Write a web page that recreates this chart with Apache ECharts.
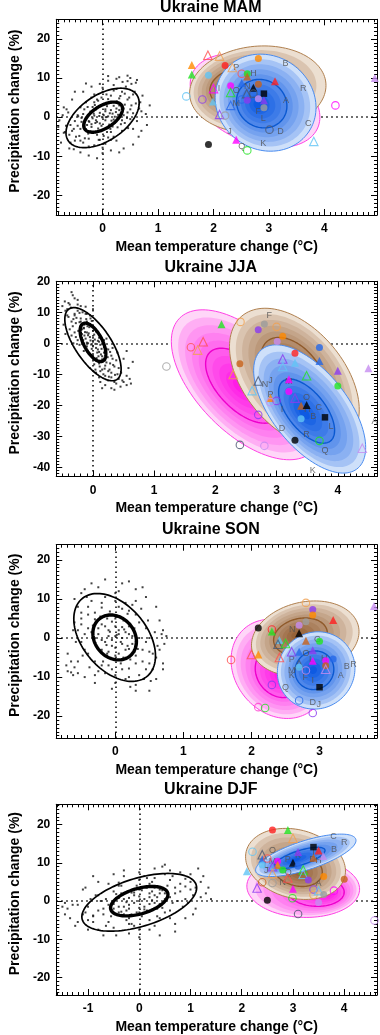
<!DOCTYPE html>
<html><head><meta charset="utf-8">
<script src="https://cdn.jsdelivr.net/npm/echarts@6/dist/echarts.min.js"></script>
<style>html,body{margin:0;padding:0;background:#fff}#c{width:380px;height:1035px}</style>
</head><body><div id="c"></div><script>
// ---------- DATA ----------
const panelTitles = ['Ukraine MAM', 'Ukraine JJA', 'Ukraine SON', 'Ukraine DJF'];
const xName = 'Mean temperature change (°C)';
const yName = 'Precipitation change (%)';
const xRanges = [[-0.836, 4.95], [-0.60, 4.64], [-0.868, 3.844], [-1.62, 4.64]];
const yRanges = [[-25, 25], [-43, 20], [-25.6, 23.9], [-24.6, 25.3]];

// natural variability samples
const mamDots = [[0.02,0.5],[-0.1,-1.2],[0.15,1.8],[-0.2,-2.5],[0.25,2.2],[0.05,-0.8],[-0.05,1.1],[0.1,0.2],[-0.15,0.4],[0.2,-0.6],[-0.25,-1.0],[0.3,3.0],[-0.3,-3.1],[0.08,2.8],[-0.08,-2.9],[0.12,-1.9],[-0.12,2.0],[0.18,0.9],[-0.18,-0.3],[0.0,-0.1],[0.22,-1.5],[-0.22,1.4],[0.28,0.6],[-0.28,-2.0],[0.04,3.3],[-0.04,-3.4],[0.14,-3.0],[-0.14,3.1],[0.33,1.0],[-0.33,-1.8],
[0.45,4.5],[0.5,2.0],[0.55,5.8],[0.4,-1.5],[0.35,6.5],[0.2,6.8],[0.0,6.5],[-0.2,5.0],[-0.4,2.5],[-0.5,-1.0],[-0.55,-3.5],[-0.5,-6.0],[-0.35,-6.5],[-0.15,-7.2],[0.05,-6.8],[0.2,-5.0],[0.35,-3.5],[0.5,-0.5],[0.6,3.5],[-0.6,-4.5],[0.42,7.8],[0.3,4.8],[-0.3,3.8],[-0.42,-4.8],[0.15,5.5],[-0.1,4.5],[-0.45,0.5],[0.46,-2.8],[0.1,-5.2],[-0.25,-5.5],[0.25,-6.0],[-0.05,-5.8],[0.55,1.0],[-0.58,-2.0],[0.38,0.5],[-0.38,-0.2],
[0.5,10.0],[0.45,9.2],[0.6,8.8],[0.3,10.2],[0.1,9.3],[-0.05,8.5],[0.55,-3.0],[0.7,1.5],[0.72,5.5],[0.8,-2.0],[0.65,-5.0],[-0.7,-4.0],[-0.75,-6.5],[-0.8,-2.5],[-0.65,2.0],[-0.55,4.5],[-0.35,6.5],[0.0,-9.2],[-0.25,-9.8],[0.15,-8.5],[-0.6,-8.0],[0.85,3.0],[-0.72,0.5],[0.38,-8.0],[0.2,8.2],
[0.05,1.5],[-0.02,-2.2],[0.12,3.8],[-0.12,-0.8],[0.22,0.1],[-0.22,-3.6],[0.3,1.8],[-0.3,-0.5],[0.18,-2.4],[-0.18,2.6],[0.08,-3.8],[-0.08,4.2],[0.26,4.0],[-0.26,-4.2],[0.35,-0.8],[-0.35,0.8],[0.4,3.2],[-0.4,-3.0],[0.02,-4.8],[-0.02,5.0],[0.15,-5.8],[-0.15,5.8],[0.45,1.2],[-0.45,-2.2],[0.1,4.6],[-0.1,-4.5],[0.32,5.4],[-0.32,-5.4],[0.48,5.0],[-0.48,-5.0],[0.2,2.9],[-0.2,-1.8],[0.27,-2.6],[-0.27,2.6],[0.06,0.0],[-0.06,0.3],[0.13,1.0],[-0.13,-1.5],[0.38,2.2],[-0.38,-1.2],[0.52,3.0],[-0.52,-3.0],[0.58,6.5],[-0.58,-6.5],[0.62,-1.0],[-0.62,1.2],[0.25,7.2],[-0.25,-7.5],[0.0,-7.8],[0.0,7.5],[0.4,6.0],[-0.4,-6.0],[0.15,-3.8],[-0.15,3.8],[0.33,-1.8],[-0.33,2.0],[0.44,-0.2],[-0.44,0.2],[0.07,5.8],[-0.07,-5.8],[0.68,3.8],[-0.68,-3.8],[0.52,8.5],[-0.52,-8.2],[0.36,9.0],[-0.2,7.8],[0.7,-3.5],[-0.7,2.5],[0.3,-9.0],[-0.4,-9.0],[0.78,0.8],[-0.78,-0.8],[0.1,10.5],[-0.1,-10.5],[0.62,9.5],[0.45,10.6],[0.25,9.8],[-0.3,8.6],[-0.5,6.5],[0.55,-7.0],[-0.66,-2.2],[0.66,2.2],[0.05,2.0],[-0.05,-1.6],[0.16,-0.9],[-0.16,0.9],[0.24,1.3],[-0.24,-1.2],[0.1,-2.8],[-0.1,2.4]];
const jjaDots = [[0.0,0.5],[-0.05,2.0],[0.05,-1.5],[-0.1,3.5],[0.1,-2.8],[-0.15,4.8],[0.15,-4.2],[0.02,2.8],[-0.02,-1.8],[0.08,0.8],[-0.08,0.0],[0.12,-0.5],[-0.12,1.5],[0.18,-3.0],[-0.18,3.0],[0.0,-3.5],[0.0,4.0],[0.06,-4.8],[-0.06,5.2],[0.2,-5.5],[-0.2,5.5],[0.1,1.8],[-0.1,-1.0],[0.14,-6.0],[-0.14,6.0],[0.04,-0.2],[-0.04,0.9],[0.16,0.0],[-0.16,1.0],[0.22,-1.8],
[-0.3,9.5],[-0.35,7.0],[-0.25,10.5],[-0.4,8.5],[-0.2,8.0],[-0.3,3.5],[-0.25,1.0],[-0.35,2.5],[-0.15,-2.5],[0.25,-9.0],[0.3,-11.0],[0.35,-7.5],[0.3,-4.0],[0.25,-2.0],[0.4,-10.0],[0.15,-8.5],[0.2,-10.5],[0.35,-12.5],[0.1,-6.5],[-0.1,7.0],[-0.05,9.0],[0.05,-9.5],[0.28,-6.5],[-0.28,6.5],[0.38,-5.5],[-0.38,4.5],[-0.22,-0.5],[0.22,1.5],[0.1,-11.0],[-0.1,9.5],[0.42,-8.0],[-0.42,11.0],[0.32,-1.5],[-0.32,0.0],
[-0.35,16.5],[-0.3,14.5],[-0.4,13.0],[-0.45,10.5],[-0.2,12.0],[0.5,-12.5],[0.55,-10.5],[0.6,-11.5],[0.45,-14.0],[0.3,-14.5],[0.5,-5.0],[-0.45,3.0],[0.65,-6.0],[0.2,-13.5],[-0.05,-8.0],[0.55,-2.5],[-0.25,14.0],[0.4,-3.0],[0.0,11.0],[0.15,-14.5],
[0.03,1.2],[-0.03,-0.4],[0.08,-2.0],[-0.08,2.6],[0.13,-3.6],[-0.13,3.6],[0.18,-1.2],[-0.18,4.5],[0.05,-5.5],[-0.05,6.2],[0.11,-7.5],[-0.11,7.8],[0.2,-7.2],[-0.2,7.0],[0.24,-4.5],[-0.24,4.0],[0.27,-8.5],[-0.27,8.2],[0.0,1.8],[0.0,-1.0],[0.15,-5.2],[-0.15,5.0],[0.07,-3.0],[-0.07,3.2],[0.1,0.5],[-0.1,0.2],[0.22,-6.2],[-0.22,6.8],[0.3,-9.5],[-0.3,9.0],[0.33,-7.0],[-0.33,5.5],[0.12,-9.0],[-0.12,9.5],[0.17,-10.0],[-0.17,10.0],[0.28,-2.8],[-0.28,2.0],[0.36,-10.2],[-0.36,11.5],[0.38,-13.0],[-0.38,12.5],[0.42,-11.5],[-0.42,9.0],[0.02,-6.8],[-0.02,7.2],[0.25,-12.0],[-0.25,12.5],[0.05,3.8],[-0.05,-3.5],[0.19,-8.2],[-0.19,1.5],[0.09,-4.2],[-0.09,5.5],[0.14,-1.8],[-0.14,2.5],[0.32,-5.0],[-0.32,7.8],[0.46,-9.5],[-0.46,13.5],[0.2,-2.5],[-0.2,2.2],[0.04,-8.5],[-0.04,8.0],[0.48,-12.0],[-0.5,12.0],[0.55,-13.5],[-0.33,15.5],[0.35,-15.0],[0.62,-13.0],[0.58,-8.0],[-0.48,6.0],[0.1,3.0],[0.18,1.0],[-0.22,9.8],[0.26,-10.8],[0.12,-12.5],[-0.12,11.8],[0.0,-5.0],[0.0,5.8]];
const sonDots = [[0.0,0.5],[-0.1,2.0],[0.1,-1.5],[-0.2,3.5],[0.2,-2.8],[0.05,-4.0],[-0.05,4.2],[0.15,1.5],[-0.15,-1.0],[0.25,0.5],[-0.25,1.0],[0.0,-2.5],[0.0,3.0],[0.1,2.8],[-0.1,-3.5],[0.28,-3.5],[-0.28,4.0],[0.2,3.0],[-0.2,-3.0],[0.05,1.0],[-0.05,-0.5],[0.12,-5.0],[-0.12,5.0],[0.3,-1.0],[-0.3,0.0],
[-0.5,5.0],[-0.4,8.0],[-0.2,9.0],[0.0,9.5],[0.2,7.0],[0.35,4.0],[0.5,0.0],[0.55,-4.0],[0.45,-8.0],[0.2,-10.0],[0.0,-9.5],[-0.2,-7.0],[-0.4,-4.0],[-0.5,-1.0],[-0.55,2.0],[0.4,-3.0],[-0.4,2.5],[0.3,-6.5],[-0.3,6.5],[0.1,7.5],[-0.1,-7.0],[0.45,2.5],[-0.45,-3.0],[0.3,6.0],[-0.3,-6.0],[0.1,-8.0],[-0.35,9.5],[0.35,-9.5],[0.15,9.0],[-0.15,-9.0],[0.5,-6.5],[-0.5,6.5],
[-0.35,14.0],[-0.15,15.0],[0.2,14.5],[0.3,12.5],[-0.5,11.5],[0.6,8.0],[0.7,2.0],[0.75,0.5],[0.65,-3.0],[0.6,-10.5],[0.5,-13.5],[0.3,-12.0],[-0.05,-13.0],[-0.3,-11.5],[-0.6,-7.5],[-0.7,-8.5],[-0.65,-6.0],[-0.55,-9.0],[-0.7,-4.0],[-0.6,10.0],[0.45,10.5],[0.7,-8.0],[-0.45,-10.0],[0.05,12.0],[0.4,13.0],
[0.05,2.0],[-0.05,-2.0],[0.15,-3.0],[-0.15,3.0],[0.25,-1.5],[-0.25,2.5],[0.1,0.0],[-0.1,0.5],[0.2,1.0],[-0.2,-0.5],[0.3,-4.5],[-0.3,4.8],[0.0,5.0],[0.0,-4.5],[0.12,4.5],[-0.12,-4.0],[0.22,-5.5],[-0.22,5.5],[0.35,0.0],[-0.35,1.5],[0.4,-6.0],[-0.4,6.0],[0.45,-1.0],[-0.45,1.0],[0.18,6.2],[-0.18,-6.0],[0.28,2.5],[-0.28,-2.0],[0.5,-3.5],[-0.5,3.5],[0.05,8.0],[-0.05,-8.0],[0.25,8.5],[-0.25,-8.5],[0.38,7.5],[-0.38,-7.5],[0.55,-8.0],[-0.55,8.0],[0.6,-5.0],[-0.6,4.0],[0.58,1.5],[-0.58,-1.0],[0.15,-10.5],[-0.15,10.5],[0.42,-10.5],[-0.42,10.5],[0.3,9.5],[-0.3,-9.5],[0.08,-6.5],[-0.08,6.8],[0.33,-2.8],[-0.33,3.2],[0.13,2.2],[-0.13,-1.8],[0.2,-7.8],[-0.2,7.8],[0.48,4.5],[-0.48,-4.5],[0.62,-2.0],[-0.62,2.0],[0.0,11.5],[0.0,-11.5],[0.68,1.0],[0.72,-1.5],[0.65,4.5],[-0.65,-8.8],[-0.72,-7.0],[-0.62,-9.5],[0.52,-11.0],[0.1,14.0],[-0.25,13.0],[0.3,-13.5],[-0.55,-6.0],[0.7,-6.5],[0.22,-12.5],[-0.45,12.5],[0.02,0.8],[0.08,-1.0],[-0.08,1.6],[0.18,-2.0]];
const djfDots = [[0.0,0.0],[0.2,1.0],[-0.2,-1.0],[0.4,2.0],[-0.4,-1.5],[0.1,-1.5],[-0.1,1.5],[0.3,-0.5],[-0.3,0.5],[0.5,0.5],[-0.5,-0.8],[0.05,2.8],[-0.05,-3.0],[0.25,2.5],[-0.25,-2.5],[0.15,-2.5],[-0.15,2.2],[0.35,1.0],[-0.35,-2.8],[0.45,2.8],[-0.45,0.8],[0.0,1.2],[0.0,-1.8],[0.3,3.5],[-0.3,-3.5],
[0.8,4.5],[0.6,5.5],[0.3,6.0],[0.0,5.5],[-0.4,4.0],[-0.8,1.5],[-1.0,-1.5],[-0.9,-4.0],[-0.6,-5.5],[-0.2,-6.0],[0.2,-5.0],[0.6,-2.5],[0.9,0.5],[1.0,3.0],[-0.7,-2.0],[0.7,2.0],[-0.5,2.5],[0.5,-3.0],[0.2,4.5],[-0.2,-4.5],[0.9,5.8],[-0.9,-5.5],[1.05,1.5],[-1.05,-3.0],[0.4,-4.5],[-0.4,4.8],[0.1,6.5],[-0.1,-6.5],[0.65,-0.5],[-0.65,0.5],
[1.2,5.0],[1.0,7.0],[0.6,8.0],[0.3,8.5],[-0.5,7.0],[-1.3,-1.0],[-1.4,-2.0],[-1.2,-5.5],[-0.7,-9.0],[-0.2,-8.5],[0.2,-7.5],[0.7,-6.0],[1.1,-2.0],[1.3,2.0],[-1.45,-3.5],[-1.0,-7.5],[0.0,-9.5],[0.4,-9.0],[-1.1,3.0],[-0.8,5.0],[0.9,-4.5],[1.15,8.5],[-0.3,8.0],[-1.5,-1.5],[0.5,9.5],
[0.1,0.5],[-0.1,-0.5],[0.3,1.5],[-0.3,-1.5],[0.5,2.0],[-0.5,-2.0],[0.2,-0.8],[-0.2,0.8],[0.4,-0.8],[-0.4,0.8],[0.6,1.0],[-0.6,-1.0],[0.7,3.5],[-0.7,-3.5],[0.15,3.5],[-0.15,-3.5],[0.35,-2.0],[-0.35,2.0],[0.55,4.0],[-0.55,-4.0],[0.05,-4.0],[-0.05,4.0],[0.8,2.5],[-0.8,-2.5],[0.25,5.0],[-0.25,-5.0],[0.9,3.8],[-0.9,-3.8],[0.45,-1.8],[-0.45,1.8],[0.75,0.0],[-0.75,0.0],[1.0,5.0],[-1.0,-5.0],[0.65,6.5],[-0.65,-6.5],[0.0,3.0],[0.0,-3.0],[1.1,3.5],[-1.1,-3.5],[0.35,-4.0],[-0.35,4.0],[0.85,-1.5],[-0.85,1.5],[0.15,6.0],[-0.15,-6.0],[1.2,1.0],[-1.2,-1.0],[0.5,7.0],[-0.5,-7.0],[0.95,-0.5],[-0.95,0.5],[0.3,-6.5],[-0.3,6.5],[0.6,-4.5],[-0.6,4.5],[1.25,6.5],[-1.25,-6.5],[0.8,7.5],[-0.8,-7.5],[0.2,2.0],[-0.2,-2.0],[0.4,3.0],[-0.4,-3.0],[0.1,-2.2],[-0.1,2.2],[1.35,3.5],[-1.35,-4.5],[0.45,9.0],[-0.45,-9.0],[0.0,7.5],[0.0,-7.5],[1.05,-3.5],[-1.05,3.5],[-1.45,-0.5],[1.4,0.5],[0.7,-8.0],[-0.9,6.5],[0.25,0.2],[-0.25,-0.3]];

// ellipse statistics: [centreX, centreY, halfRangeX, halfRangeY, correlation, peakX, peakY]
const mamNatOuter = [0.0, -0.2, 0.66, 7.6, 0.5];
const mamNatInner = [0.01, 0.0, 0.35, 3.85, 0.55];
const mamPink  = [2.75, 4.2, 1.17, 12.0, -0.35, 2.6, 3.0];
const mamBrown = [2.8, 7.1, 1.23, 11.1, 0.09, 2.3, 7.5];
const mamBlue  = [2.94, 3.7, 0.91, 12.4, -0.1, 2.8, 3.2];

const jjaNatOuter = [0.0, -0.3, 0.46, 11.8, -0.68];
const jjaNatInner = [0.0, 0.3, 0.21, 6.2, -0.6];
const jjaPink  = [2.5, -13.4, 1.22, 24.2, -0.58, 2.4, -14.0];
const jjaBrown = [3.29, -11.3, 1.06, 22.6, -0.45, 3.26, -7.5];
const jjaBlue  = [3.54, -21.2, 0.915, 20.7, -0.6, 3.44, -22.6];

const sonNatOuter = [-0.01, 0.15, 0.6, 11.25, -0.42];
const sonNatInner = [-0.01, 0.15, 0.32, 5.75, -0.18];
const sonPink  = [2.4, -7.9, 0.7, 12.7, -0.18, 2.41, -9.9];
const sonBrown = [2.79, -0.1, 0.79, 9.6, 0.18, 2.65, 0.8];
const sonBlue  = [2.95, -8.3, 0.57, 9.9, 0.05, 2.9, -8.2];

const djfNatOuter = [0.0, -0.35, 1.12, 7.55, 0.5];
const djfNatInner = [0.0, -0.05, 0.56, 3.85, 0.45];
const djfPink  = [3.2, 3.5, 1.1, 7.8, -0.05, 3.7, 1.5];
const djfBrown = [3.05, 9.7, 0.975, 9.3, -0.2, 3.12, 7.2];
const djfBlue  = [3.25, 11.95, 0.98, 5.55, 0.7, 3.02, 10.6];

// individual models: [dT, dP, marker kind, model colour]
const mamModels = [[1.90,15.8,'ot','salmon'],[2.11,15.6,'ot','peach'],[1.61,13.3,'ft','orange'],[2.21,13.2,'fc','red'],[2.34,12.7,'ot','peach'],[2.81,15.0,'fc','orange'],[1.61,10.9,'ft','green'],[1.91,10.7,'fc','sky'],[2.51,11.1,'oc','salmon'],[2.61,11.1,'fc','green'],[2.61,10.4,'ft','brown'],[3.11,9.2,'ft','red'],[2.51,8.7,'ft','blue'],[2.00,7.3,'ot','magenta'],[2.31,8.0,'fc','magenta'],[2.31,6.3,'ot','green'],[2.72,7.5,'ft','black'],[2.81,8.4,'fc','brown'],[2.91,6.0,'fs','black'],[2.60,6.0,'ot','slate'],[2.72,6.0,'oc','slate'],[1.51,5.3,'oc','sky'],[1.80,4.5,'oc','purple'],[1.99,4.0,'ft','sky'],[2.31,3.0,'ot','blue'],[2.51,4.5,'oc','blue'],[2.61,4.3,'fc','purple'],[2.81,4.7,'fc','lavender'],[2.91,4.3,'ft','purple'],[2.91,2.4,'fc','gray'],[2.11,0.7,'ot','purple'],[2.21,0.4,'oc','gray'],[4.20,3.0,'oc','magenta'],[4.91,10.0,'ft','lavender'],[3.01,-3.2,'oc','slate'],[3.81,-6.2,'ot','sky'],[1.91,-7.0,'fc','black'],[2.41,-5.8,'ft','magenta'],[2.61,-8.5,'oc','green']];
const jjaModels = [[1.20,-7.5,'oc','gray'],[1.60,-1.3,'oc','salmon'],[1.80,0.5,'ot','salmon'],[1.71,-2.2,'ot','peach'],[2.10,6.1,'ft','green'],[2.41,6.9,'oc','peach'],[2.80,6.2,'fc','gray'],[2.70,4.4,'fc','purple'],[3.00,5.3,'oc','peach'],[3.10,2.3,'fc','orange'],[3.01,0.6,'fc','lavender'],[2.40,-6.6,'fc','brown'],[2.29,-10.1,'ot','peach'],[3.30,-3.2,'fc','red'],[3.30,-6.3,'ft','sky'],[3.70,-1.4,'fc','blue'],[3.70,-5.7,'ft','blue'],[4.00,-8.9,'ft','purple'],[4.00,-13.8,'fc','green'],[4.50,-8.1,'ft','lavender'],[3.10,-5.1,'ot','purple'],[3.10,-7.5,'ot','sky'],[3.49,-10.5,'ot','green'],[2.70,-12.2,'ot','slate'],[2.60,-15.3,'ot','sky'],[3.20,-11.6,'ft','magenta'],[3.20,-15.6,'fc','magenta'],[2.90,-17.7,'ft','orange'],[3.00,-18.6,'oc','purple'],[2.90,-19.0,'oc','lavender'],[3.30,-17.7,'ot','purple'],[3.40,-20.2,'ft','brown'],[3.49,-19.9,'ft','black'],[3.40,-24.4,'fc','sky'],[3.79,-23.9,'fs','black'],[2.70,-23.1,'oc','purple'],[3.30,-31.3,'fc','black'],[3.70,-31.5,'oc','green'],[2.40,-32.8,'oc','slate'],[2.80,-33.1,'oc','lavender'],[4.40,-33.9,'ot','lavender']];
const sonModels = [[3.80,8.2,'ft','lavender'],[2.80,9.0,'oc','peach'],[2.90,7.3,'fc','purple'],[2.90,5.9,'fc','orange'],[3.20,4.6,'ft','red'],[2.80,4.2,'fc','gray'],[2.70,3.3,'fc','lavender'],[2.10,2.6,'fc','black'],[2.30,2.2,'oc','red'],[2.30,1.7,'ft','green'],[2.70,1.2,'ft','black'],[2.41,-0.5,'ft','sky'],[2.39,-1.6,'ot','slate'],[2.50,-1.4,'ot','green'],[2.80,-0.7,'ft','brown'],[3.00,-0.8,'fc','green'],[2.00,-4.2,'ot','salmon'],[2.10,-4.2,'ft','orange'],[1.70,-5.6,'oc','salmon'],[2.41,-5.0,'ot','salmon'],[2.59,-3.5,'ot','purple'],[2.70,-3.5,'ft','blue'],[2.90,-3.1,'ft','purple'],[2.90,-5.8,'ft','magenta'],[3.09,-5.8,'fc','magenta'],[3.20,-5.4,'fc','blue'],[3.09,-7.1,'fc','brown'],[3.09,-8.0,'ot','lavender'],[2.70,-6.8,'ot','slate'],[2.70,-7.5,'fc','sky'],[2.80,-8.3,'oc','lavender'],[2.30,-12.0,'oc','purple'],[3.00,-12.6,'fs','black'],[2.70,-16.0,'oc','blue'],[2.10,-17.7,'oc','pink'],[2.20,-17.9,'oc','green'],[2.90,-19.2,'oc','purple']];
const djfModels = [[2.60,18.6,'fc','red'],[2.90,18.6,'ft','green'],[3.00,16.4,'ot','peach'],[3.40,14.1,'fs','black'],[3.50,13.2,'ft','red'],[3.59,11.8,'ft','lavender'],[3.10,12.8,'ft','purple'],[3.40,11.3,'ft','brown'],[3.00,10.0,'ft','black'],[3.10,9.1,'fc','blue'],[2.21,12.9,'oc','sky'],[2.40,12.1,'ot','slate'],[2.40,10.9,'ft','blue'],[2.50,11.1,'oc','salmon'],[2.40,9.4,'fc','sky'],[2.70,10.4,'fc','magenta'],[2.70,9.4,'ft','orange'],[2.60,9.0,'ot','purple'],[2.80,8.1,'fc','green'],[2.60,7.2,'ot','peach'],[2.10,7.8,'ft','sky'],[3.20,8.1,'ot','green'],[3.20,7.0,'ot','sky'],[2.90,6.0,'ot','salmon'],[3.30,5.5,'fc','purple'],[3.60,6.4,'fc','orange'],[4.00,5.7,'fc','brown'],[2.40,4.9,'oc','brown'],[2.60,4.7,'oc','gray'],[2.30,3.4,'ot','purple'],[3.00,3.2,'ft','magenta'],[3.40,3.0,'oc','purple'],[3.40,1.6,'oc','peach'],[3.50,2.7,'ot','sky'],[3.60,1.7,'fc','gray'],[3.80,2.7,'oc','magenta'],[3.50,-0.4,'fc','lavender'],[2.99,0.7,'oc','green'],[2.50,0.2,'fc','black'],[3.10,-3.4,'oc','slate'],[4.59,-5.1,'oc','lavender']];

// model letters: [dT, dP, letter]
const mamLetters = [[2.41,12.7,'P'],[3.30,13.7,'B'],[2.72,11.1,'H'],[2.10,7.3,'I'],[2.41,6.7,'O'],[2.61,7.7,'N'],[3.62,7.3,'R'],[3.31,4.3,'A'],[2.41,3.6,'M'],[2.81,1.5,'F'],[2.90,-0.4,'L'],[3.71,-1.5,'C'],[3.21,-3.6,'D'],[2.29,-3.6,'J'],[2.51,-7.5,'Q'],[2.90,-6.7,'K']];
const jjaLetters = [[2.88,8.8,'F'],[2.81,-13.2,'N'],[2.90,-12.1,'J'],[3.20,-12.4,'M'],[2.90,-16.7,'P'],[3.49,-17.4,'O'],[3.09,-21.3,'I'],[3.50,-21.5,'H'],[3.69,-20.6,'C'],[3.60,-23.5,'B'],[3.89,-26.9,'L'],[3.09,-27.4,'D'],[3.49,-29.6,'R'],[3.79,-34.6,'Q'],[3.59,-41.1,'K'],[4.60,-25.3,'A']];
const sonLetters = [[2.60,2.2,'N'],[2.97,-0.3,'G'],[2.80,-3.9,'O'],[2.59,-5.6,'P'],[2.88,-5.6,'L'],[3.07,-5.2,'H'],[2.59,-8.3,'M'],[2.59,-9.7,'K'],[2.79,-10.0,'F'],[2.90,-10.9,'I'],[3.40,-7.3,'B'],[3.50,-6.9,'R'],[3.31,-9.7,'A'],[2.50,-12.6,'Q'],[2.90,-16.5,'D'],[2.99,-16.9,'J']];
const djfLetters = [[3.79,16.9,'C'],[4.00,15.2,'R'],[3.80,13.5,'B'],[3.40,12.8,'I'],[3.10,11.9,'K'],[2.90,10.9,'P'],[3.50,10.6,'H'],[3.38,10.9,'D'],[2.60,13.1,'O'],[2.48,9.4,'L'],[2.48,8.1,'J'],[2.60,10.4,'M'],[2.91,7.5,'Q'],[2.80,4.9,'N'],[3.50,4.7,'A']];

// ---------- STYLE / LAYOUT ----------
const FONT = '"Liberation Sans", Arial, Helvetica, sans-serif';
const gridTops = [19.3, 281.3, 544.7, 804.3];
const gridHeights = [195.7, 195.2, 193.3, 195];
const titleTops = [0, 260, 522, 782];
const modelColors = {red:'#ff1f1f', orange:'#ff8a00', green:'#22e422', blue:'#2468e8', sky:'#62c4f5', magenta:'#ff00ff', purple:'#8b3bef', lavender:'#c58cf0', brown:'#c7621a', gray:'#9c9c9c', black:'#000000', slate:'#4a5670', salmon:'#ff5050', peach:'#f0a050', pink:'#ff3fd0'};
const palettes = {
  pink:  {outer:[255,214,248], inner:[255,28,230], line:'#ff40e6', contour:'#ee00cc'},
  brown: {outer:[236,223,209], inner:[150,98,56], line:'#b0804f', contour:'#8f5a2a'},
  blue:  {outer:[206,224,250], inner:[14,90,226], line:'#4a8cf0', contour:'#0a58d0'}
};

const panels = [
  {dots:mamDots, nat:[mamNatOuter, mamNatInner], ens:[mamPink, mamBrown, mamBlue], models:mamModels, letters:mamLetters},
  {dots:jjaDots, nat:[jjaNatOuter, jjaNatInner], ens:[jjaPink, jjaBrown, jjaBlue], models:jjaModels, letters:jjaLetters},
  {dots:sonDots, nat:[sonNatOuter, sonNatInner], ens:[sonPink, sonBrown, sonBlue], models:sonModels, letters:sonLetters},
  {dots:djfDots, nat:[djfNatOuter, djfNatInner], ens:[djfPink, djfBrown, djfBlue], models:djfModels, letters:djfLetters}
];

function mix(a, b, f) {
  return 'rgb(' + a.map((v, i) => Math.round(v + (b[i] - v) * f)).join(',') + ')';
}
function ellipseCoords(api, e, s) {
  const cx = e[0], cy = e[1], rx = e[2], ry = e[3], rho = e[4];
  const kx = e.length > 5 ? e[5] : cx, ky = e.length > 5 ? e[6] : cy;
  const ox = kx + s * (cx - kx), oy = ky + s * (cy - ky);
  const q = Math.sqrt(1 - rho * rho);
  const pts = [];
  for (let i = 0; i < 120; i++) {
    const t = 2 * Math.PI * i / 120;
    pts.push(api.coord([ox + s * rx * Math.cos(t), oy + s * ry * (rho * Math.cos(t) + q * Math.sin(t))]));
  }
  return pts;
}

const grids = [], xAxes = [], yAxes = [], series = [], titles = [];
const baseTick = {inside: true, length: 6, lineStyle: {color: '#000', width: 1}};
const baseMinor = {show: true, splitNumber: 10, length: 3, lineStyle: {color: '#000', width: 1}};
const lblStyle = {color: '#000', fontWeight: 'bold', fontSize: 12, fontFamily: FONT};

panels.forEach((P, p) => {
  grids.push({left: 43.3, width: 335, top: gridTops[p], height: gridHeights[p], containLabel: false});
  titles.push({text: panelTitles[p], left: 210.8, top: titleTops[p], textAlign: 'center', padding: 0,
    textStyle: {fontSize: 16, fontWeight: 'bold', color: '#000', fontFamily: FONT}});
  const xr = xRanges[p], yr = yRanges[p];
  const xs = Math.round(xr[1] - xr[0]);
  const common = {type: 'value', gridIndex: p, splitLine: {show: false},
    axisLine: {show: true, onZero: false, lineStyle: {color: '#000', width: 1}},
    axisTick: baseTick, minorTick: baseMinor};
  xAxes.push(Object.assign({}, common, {min: xr[0], max: xr[1], splitNumber: xs, position: 'bottom',
    axisLabel: Object.assign({}, lblStyle, {margin: 8, formatter: v => Math.abs(v - Math.round(v)) < 1e-6 ? String(Math.round(v)) : ''}),
    name: xName, nameLocation: 'middle', nameGap: 25,
    nameTextStyle: {fontSize: 14, fontWeight: 'bold', color: '#000', fontFamily: FONT}}));
  xAxes.push(Object.assign({}, common, {min: xr[0], max: xr[1], splitNumber: xs, position: 'top', axisLabel: {show: false}}));
  const ys = Math.round((yr[1] - yr[0]) / 10);
  yAxes.push(Object.assign({}, common, {min: yr[0], max: yr[1], splitNumber: ys, position: 'left',
    axisLabel: Object.assign({}, lblStyle, {margin: 6, formatter: v => Math.abs(v / 10 - Math.round(v / 10)) < 1e-6 ? String(Math.round(v)) : ''}),
    name: yName, nameLocation: 'middle', nameGap: 28,
    nameTextStyle: {fontSize: 14, fontWeight: 'bold', color: '#000', fontFamily: FONT, padding: [0, 0, 0, 12]}}));
  yAxes.push(Object.assign({}, common, {min: yr[0], max: yr[1], splitNumber: ys, position: 'right', axisLabel: {show: false}}));
  const xi = 2 * p, yi = 2 * p;

  // natural variability dots + zero lines
  series.push({type: 'scatter', xAxisIndex: xi, yAxisIndex: yi, z: 2, silent: true, symbol: 'rect', symbolSize: 2,
    itemStyle: {color: '#111'}, data: P.dots,
    markLine: {silent: true, z: 1, symbol: ['none', 'none'], animation: false, label: {show: false},
      lineStyle: {color: '#000', width: 1.5, type: [1.5, 3.5]}, emphasis: {disabled: true},
      data: [{xAxis: 0}, {yAxis: 0}]}});
  // natural variability ellipses
  series.push({type: 'custom', xAxisIndex: xi, yAxisIndex: yi, z: 3, silent: true, clip: true, data: [[P.nat[0][0], P.nat[0][1]]],
    renderItem: (params, api) => ({type: 'group', children: [
      {type: 'polygon', shape: {points: ellipseCoords(api, P.nat[0], 1)}, style: {fill: 'none', stroke: '#000', lineWidth: 1.7}},
      {type: 'polygon', shape: {points: ellipseCoords(api, P.nat[1], 1)}, style: {fill: 'none', stroke: '#000', lineWidth: 3.4}}
    ]})});
  // ensembles
  ['pink', 'brown', 'blue'].forEach((name, k) => {
    const e = P.ens[k], pal = palettes[name];
    series.push({type: 'custom', xAxisIndex: xi, yAxisIndex: yi, z: 10 + k, silent: true, clip: true, data: [[e[0], e[1]]],
      renderItem: (params, api) => {
        const ch = [], N = 10;
        for (let b = 0; b < N; b++) {
          const s = (N - b) / N;
          ch.push({type: 'polygon', shape: {points: ellipseCoords(api, e, s)}, style: {fill: mix(pal.outer, pal.inner, Math.pow(b / (N - 1), 0.7))}});
        }
        ch.push({type: 'polygon', shape: {points: ellipseCoords(api, e, 1)}, style: {fill: 'none', stroke: pal.line, lineWidth: 1}});
        ch.push({type: 'polygon', shape: {points: ellipseCoords(api, e, 0.5)}, style: {fill: 'none', stroke: pal.contour, lineWidth: 1.4}});
        return {type: 'group', children: ch};
      }});
  });
  // letters
  series.push({type: 'scatter', xAxisIndex: xi, yAxisIndex: yi, z: 14, silent: true, symbolSize: 1,
    itemStyle: {color: 'rgba(0,0,0,0)'},
    label: {show: true, position: 'inside', formatter: '{b}', color: '#505050', fontSize: 9, fontFamily: FONT},
    data: P.letters.map(l => ({value: [l[0], l[1]], name: l[2]}))});
  // models
  series.push({type: 'scatter', xAxisIndex: xi, yAxisIndex: yi, z: 15, silent: true,
    data: P.models.map(m => {
      const c = modelColors[m[3]], kind = m[2];
      const open = kind[0] === 'o';
      const symbol = kind[1] === 'c' ? 'circle' : kind[1] === 't' ? 'triangle' : 'rect';
      const size = kind === 'fs' ? 6.5 : kind[1] === 't' ? 8 : 7;
      return {value: [m[0], m[1]], symbol: symbol, symbolSize: open ? size + 0.5 : size,
        itemStyle: open ? {color: 'rgba(0,0,0,0)', borderColor: c, borderWidth: 1.1} : {color: c}};
    })});
});

const chart = echarts.init(document.getElementById('c'), null, {renderer: 'canvas'});
chart.setOption({
  animation: false,
  backgroundColor: '#fff',
  textStyle: {fontFamily: FONT},
  title: titles, grid: grids, xAxis: xAxes, yAxis: yAxes, series: series
});
</script></body></html>
